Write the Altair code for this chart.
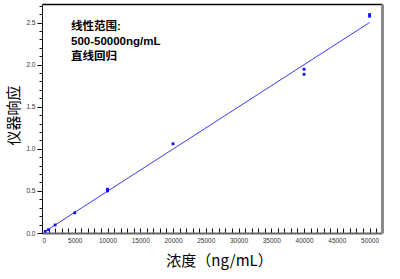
import altair as alt
import pandas as pd

# data
conc = [500, 1000, 2000, 5000, 10000, 10000, 20000, 40000, 40000, 50000, 50000]
resp = [0.02, 0.04, 0.095, 0.24, 0.50, 0.52, 1.06, 1.945, 1.885, 2.595, 2.575]
fit_x = [500, 50000]
fit_y = [0.02, 2.50]
x_major = [0, 5000, 10000, 15000, 20000, 25000, 30000, 35000, 40000, 45000, 50000]
x_minor = list(range(0, 51001, 1000))
y_major = [0.0, 0.5, 1.0, 1.5, 2.0, 2.5]
y_minor = [round(i * 0.1, 1) for i in range(28)]
annot_lines = ["线性范围:", "500-50000ng/mL", "直线回归"]
x_title = "浓度（ng/mL）"
y_title = "仪器响应"

pts_df = pd.DataFrame({"conc": conc, "resp": resp})
fit_df = pd.DataFrame({"conc": fit_x, "resp": fit_y})
txt_df = pd.DataFrame({"t": ["\n".join(annot_lines)]})

xs = alt.Scale(domain=[0, 51900], nice=False, zero=False)
ys = alt.Scale(domain=[0, 2.72], nice=False, zero=False)
CJK = "Noto Sans CJK SC"
LAB = "Liberation Sans"

pts = alt.Chart(pts_df).mark_square(size=8, color="#1010ff", opacity=1).encode(
    x=alt.X("conc:Q", scale=xs, axis=alt.Axis(
        orient="bottom", values=x_major, format="d", labelFont=LAB,
        labelFontSize=6.5, labelColor="#333", tickSize=0, labelPadding=4,
        domainColor="#666", domainWidth=2.2, grid=False,
        title=x_title, titleFont=CJK, titleFontSize=15, titleFontWeight="normal",
        titleColor="#000", titleX=177, titleY=27, titleBaseline="middle",
        titleAlign="center")),
    y=alt.Y("resp:Q", scale=ys, axis=alt.Axis(
        orient="left", values=y_major, format=".1f", labelFont=LAB,
        labelFontSize=6.5, labelColor="#333", tickSize=5, tickColor="#000",
        labelPadding=2, domainColor="#111", domainWidth=1, grid=False,
        title=y_title, titleFont=CJK, titleFontSize=15, titleFontWeight="normal",
        titleColor="#000", titleX=-29, titleY=111, titleAngle=270,
        titleBaseline="middle", titleAlign="center")),
)

line = alt.Chart(fit_df).mark_line(color="#3a3aff", strokeWidth=1).encode(
    x=alt.X("conc:Q", scale=xs, axis=alt.Axis(
        orient="bottom", values=x_minor, labels=False, domain=False, ticks=True,
        tickSize=5, tickColor="#111", tickWidth=1, offset=-5, grid=False, title=None)),
    y=alt.Y("resp:Q", scale=ys, axis=alt.Axis(
        orient="left", values=y_minor, labels=False, domain=False, ticks=True,
        tickSize=3, tickColor="#111", tickWidth=1, grid=False, title=None)),
)

border = alt.Chart(pts_df).mark_point(opacity=0).encode(
    x=alt.X("conc:Q", scale=xs, axis=alt.Axis(
        orient="top", labels=False, ticks=False, domainColor="#000",
        domainWidth=1.5, grid=False, title=None)),
    y=alt.Y("resp:Q", scale=ys, axis=alt.Axis(
        orient="right", labels=False, ticks=False, domainColor="#8a8a8a",
        domainWidth=3, grid=False, title=None)),
)

text = alt.Chart(txt_df).mark_text(
    align="left", baseline="top", fontSize=11.5, fontWeight="bold",
    font="Liberation Sans, Noto Sans CJK SC", lineHeight=15, lineBreak="\n",
    color="#000"
).encode(text="t:N", x=alt.value(29), y=alt.value(17))

chart = alt.layer(line, pts, border, text).resolve_axis(
    x="independent", y="independent"
).properties(
    width=340, height=229,
    padding={"left": 42, "top": 4, "right": 18, "bottom": 46},
    autosize=alt.AutoSizeParams(type="none"),
    background="white",
).configure_view(stroke=None)

chart.save("out.html", embed_options={"renderer": "svg", "actions": False})
